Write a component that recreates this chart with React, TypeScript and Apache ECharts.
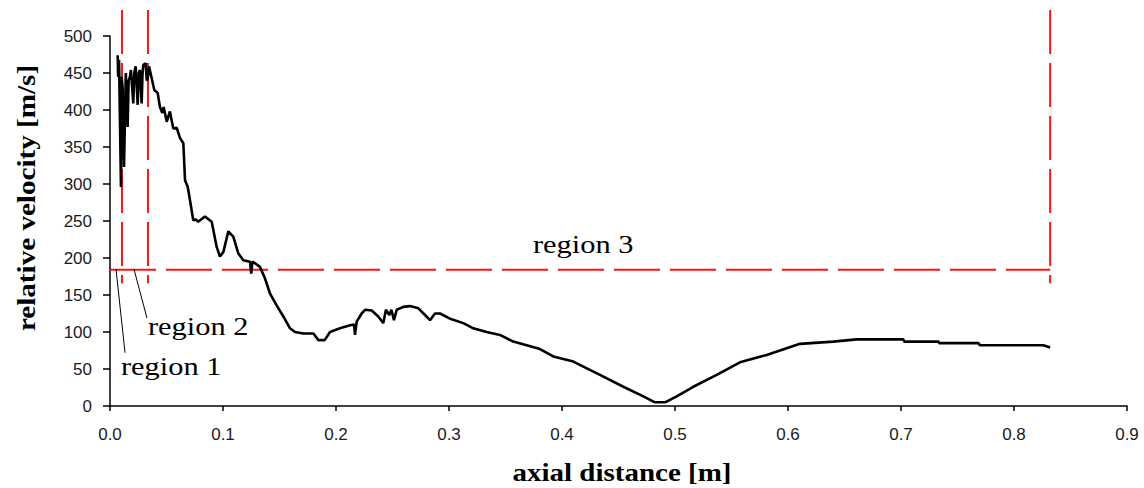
import React, { useEffect, useRef } from "react";
import * as echarts from "echarts";

// axial distance [m]
const axialDistance = [
  0.0068, 0.0072, 0.008, 0.0097, 0.0103, 0.0112, 0.0124, 0.014, 0.0156, 0.0165,
  0.0177, 0.0185, 0.0206, 0.0215, 0.0227, 0.0245, 0.0255, 0.0265, 0.028, 0.0288,
  0.0295, 0.0316, 0.0325, 0.0333, 0.0345, 0.0369, 0.0392, 0.0422, 0.0442, 0.0463,
  0.0475, 0.0502, 0.053, 0.056, 0.059, 0.062, 0.0649, 0.0664, 0.0688, 0.0708,
  0.0737, 0.076, 0.078, 0.084, 0.09, 0.0944, 0.0973, 0.1003, 0.1047, 0.1091,
  0.1136, 0.118, 0.1239, 0.125, 0.126, 0.1283, 0.1327, 0.137, 0.1416, 0.1475,
  0.1534, 0.1593, 0.1637, 0.171, 0.18, 0.1844, 0.19, 0.1947, 0.2035, 0.2124,
  0.216, 0.2168, 0.2183, 0.2227, 0.2257, 0.2316, 0.2374, 0.2419, 0.2442, 0.2472,
  0.249, 0.2513, 0.2537, 0.2596, 0.2655, 0.2729, 0.2788, 0.2832, 0.2876, 0.292,
  0.3009, 0.3127, 0.3215, 0.3333, 0.3451, 0.3569, 0.3687, 0.3805, 0.3923, 0.41,
  0.4336, 0.4543, 0.472, 0.4823, 0.4912, 0.5015, 0.5162, 0.5369, 0.5575, 0.5811,
  0.6047, 0.6106, 0.64, 0.6607, 0.702, 0.703, 0.733, 0.734, 0.7684, 0.77,
  0.826, 0.832,
];

// relative velocity [m/s]
const relativeVelocity = [
  474, 445, 468, 296, 445, 430, 323, 450, 377, 440,
  445, 454, 409, 450, 459, 407, 450, 454, 409, 450,
  461, 463, 440, 441, 459, 443, 427, 423, 404, 396,
  404, 384, 398, 375, 376, 362, 355, 305, 296, 278,
  251, 252, 249, 256, 249, 215, 202, 208, 236, 229,
  206, 197, 195, 179, 195, 193, 188, 173, 152, 136,
  121, 105, 100, 98, 98, 89, 89, 100, 105, 109,
  110, 96, 114, 125, 130, 129, 121, 112, 130, 123,
  130, 116, 130, 134, 135, 132, 123, 116, 125, 125,
  118, 112, 105, 100, 96, 87, 82, 77, 67, 60,
  42, 26, 13, 5, 5, 13, 26, 42, 59, 69,
  81, 84, 87, 90, 90, 87, 87, 85, 85, 82,
  82, 79,
];

// region boundaries (dashed red lines)
const regionBoundaryX = [0.0106, 0.0336, 0.832];
const regionBoundaryTop = 535;
const regionBoundaryBottom = 166;
const regionBoundaryY = 184;
const regionBoundaryStart = 0;

// leader lines for region labels: [x0, y0, x1, y1]
const region1Leader = [0.0053, 185, 0.0133, 72];
const region2Leader = [0.0212, 185, 0.0327, 119];

const xTicks = { min: 0, max: 0.9, interval: 0.1 };
const yTicks = { min: 0, max: 500, interval: 50 };

const regionLabels = ["region 1", "region 2", "region 3"];
const xTitle = "axial distance [m]";
const yTitle = "relative velocity [m/s]";

export default function App() {
  const ref = useRef<HTMLDivElement>(null);

  useEffect(() => {
    if (!ref.current) return;
    const chart = echarts.init(ref.current, null, { renderer: "svg" });

    const mainData = axialDistance.map((x, i) => [x, relativeVelocity[i]]);
    const red = "#ff1414";
    const dash = [44, 9];

    const redSeries: any[] = regionBoundaryX.map((x) => ({
      type: "line",
      data: [
        [x, regionBoundaryTop],
        [x, regionBoundaryBottom],
      ],
      symbol: "none",
      clip: false,
      silent: true,
      lineStyle: { color: red, width: 2, type: dash },
      z: 3,
    }));
    redSeries.push({
      type: "line",
      data: [
        [regionBoundaryStart, regionBoundaryY],
        [regionBoundaryX[2], regionBoundaryY],
      ],
      symbol: "none",
      clip: false,
      silent: true,
      lineStyle: { color: red, width: 2, type: [46, 10] },
      z: 3,
    });

    const leader = (l: number[]) => ({
      type: "line",
      data: [
        [l[0], l[1]],
        [l[2], l[3]],
      ],
      symbol: "none",
      clip: false,
      silent: true,
      lineStyle: { color: "#000", width: 1 },
      z: 4,
    });

    const serif = "'Liberation Serif', 'Times New Roman', serif";
    const sans = "'Liberation Sans', Arial, sans-serif";

    chart.setOption({
      animation: false,
      backgroundColor: "#fff",
      grid: {
        left: 110,
        right: 17,
        top: 36,
        bottom: 82,
        containLabel: false,
        outerBoundsMode: "none",
      },
      xAxis: {
        type: "value",
        min: xTicks.min,
        max: xTicks.max,
        interval: xTicks.interval,
        splitLine: { show: false },
        axisLine: { show: true, onZero: false, lineStyle: { color: "#000", width: 1.5 } },
        axisTick: { show: true, length: 5, lineStyle: { color: "#000", width: 1.5 } },
        axisLabel: {
          margin: 20,
          color: "#1a1a1a",
          fontSize: 17,
          fontFamily: sans,
          formatter: (v: number) => v.toFixed(1),
        },
      },
      yAxis: {
        type: "value",
        min: yTicks.min,
        max: yTicks.max,
        interval: yTicks.interval,
        splitLine: { show: false },
        axisLine: { show: true, onZero: false, lineStyle: { color: "#000", width: 1.5 } },
        axisTick: { show: true, length: 7, lineStyle: { color: "#000", width: 1.5 } },
        axisLabel: {
          margin: 18,
          color: "#1a1a1a",
          fontSize: 17,
          fontFamily: sans,
        },
      },
      series: [
        {
          type: "line",
          data: mainData,
          symbol: "none",
          lineStyle: { color: "#000", width: 2.6 },
          z: 5,
        },
        ...redSeries,
        leader(region1Leader),
        leader(region2Leader),
      ],
      graphic: [
        {
          type: "text",
          x: 121,
          y: 366,
          scaleX: 1.17,
          style: {
            text: regionLabels[0],
            font: `26px ${serif}`,
            fill: "#000",
            align: "left",
            verticalAlign: "middle",
          },
        },
        {
          type: "text",
          x: 148,
          y: 326,
          scaleX: 1.17,
          style: {
            text: regionLabels[1],
            font: `26px ${serif}`,
            fill: "#000",
            align: "left",
            verticalAlign: "middle",
          },
        },
        {
          type: "text",
          x: 533,
          y: 244,
          scaleX: 1.17,
          style: {
            text: regionLabels[2],
            font: `26px ${serif}`,
            fill: "#000",
            align: "left",
            verticalAlign: "middle",
          },
        },
        {
          type: "text",
          x: 622,
          y: 473,
          scaleX: 1.16,
          style: {
            text: xTitle,
            font: `bold 25px ${serif}`,
            fill: "#000",
            align: "center",
            verticalAlign: "middle",
          },
        },
        {
          type: "text",
          x: 26,
          y: 198,
          rotation: Math.PI / 2,
          scaleX: 1.12,
          style: {
            text: yTitle,
            font: `bold 26px ${serif}`,
            fill: "#000",
            align: "center",
            verticalAlign: "middle",
          },
        },
      ],
    });

    return () => chart.dispose();
  }, []);

  return (
    <div
      ref={ref}
      style={{ position: "fixed", left: 0, top: 0, width: 1144, height: 488 }}
    />
  );
}
